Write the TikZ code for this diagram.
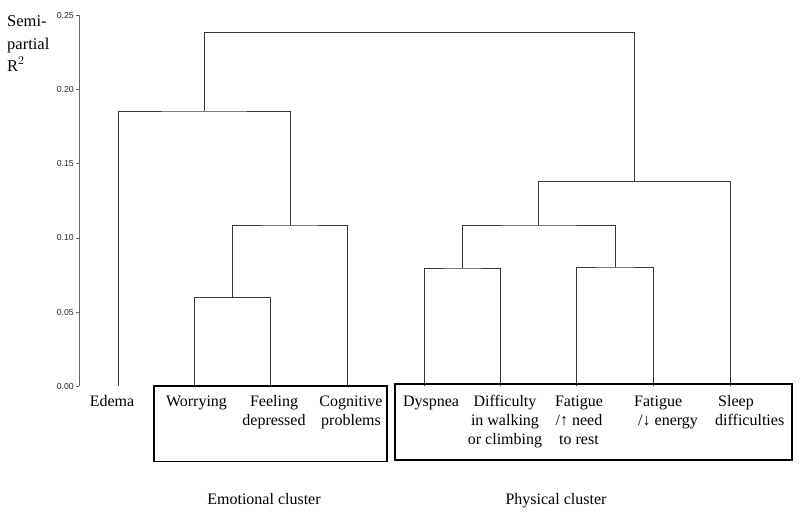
\documentclass[tikz,border=0pt]{standalone}
\usepackage{fontspec}
\setmainfont{Liberation Serif}
\newfontfamily\ticksans{Liberation Sans}
\setlength{\tabcolsep}{0pt}
\newcommand{\cstack}[1]{\begin{tabular}[t]{c}#1\end{tabular}}
\newcommand{\lstack}[1]{\begin{tabular}[t]{l}#1\end{tabular}}
\begin{document}
\begin{tikzpicture}[x=1pt,y=-1pt,
  dendro/.style={draw=black!78,line width=0.9pt},
  axisline/.style={draw=black!60,line width=0.8pt},
  clusterbox/.style={draw=black,line width=1.8pt},
  ticklab/.style={font=\ticksans\fontsize{8.7}{10}\selectfont,anchor=east,inner sep=0pt,text=black!85},
  leaflab/.style={font=\fontsize{16}{18.8}\selectfont,anchor=base,inner sep=0pt},
  leaflabl/.style={font=\fontsize{16}{18.8}\selectfont,anchor=base west,inner sep=0pt},
  clab/.style={font=\fontsize{16}{19}\selectfont,anchor=base,inner sep=0pt}]
\useasboundingbox (0,0) rectangle (800,514);

% axis
\coordinate (ax0) at (79,386.3);
\coordinate (ax1) at (79,15.3);
\draw[axisline] (ax0) -- (ax1);
\foreach \v/\y/\k in {0.00/386.3/a,0.05/312.1/b,0.10/237.9/c,0.15/163.7/d,0.20/89.5/e,0.25/15.3/f}{
  \coordinate (tick\k) at (79,\y);
  \coordinate (tickend\k) at (75.5,\y);
  \draw[axisline] (tick\k) -- (tickend\k);
  \node[ticklab] (ticklab\k) at (74,\y) {\v};
}
\node[anchor=base west,inner sep=0pt,font=\fontsize{16.5}{22}\selectfont] (ylab) at (7,27) {\lstack{Semi-\\partial\\R$^{2}$}};

% leaves
\coordinate (lE) at (118,386.3);
\coordinate (lW) at (194.7,386.3);
\coordinate (lF) at (270.7,386.3);
\coordinate (lC) at (347.3,386.3);
\coordinate (lD) at (424.3,386.3);
\coordinate (lDi) at (500.7,386.3);
\coordinate (lFn) at (576.7,386.3);
\coordinate (lFe) at (653.3,386.3);
\coordinate (lS) at (730.3,386.3);

% merges
\coordinate (mWF) at (232.7,297.7);
\coordinate (mWFC) at (290,225);
\coordinate (mE) at (204,111);
\coordinate (mDD) at (462.5,268);
\coordinate (mFF) at (615,267);
\coordinate (mP) at (538.5,225);
\coordinate (mPS) at (634.3,181.7);
\coordinate (mTop) at (419,32.7);

\draw[dendro] (lW) |- (mWF) -| (lF);
\draw[dendro] (mWF) |- (mWFC) -| (lC);
\draw[dendro] (lE) |- (mE) -| (mWFC);
\draw[dendro] (lD) |- (mDD) -| (lDi);
\draw[dendro] (lFn) |- (mFF) -| (lFe);
\draw[dendro] (mDD) |- (mP) -| (mFF);
\draw[dendro] (mP) |- (mPS) -| (lS);
\draw[dendro] (mE) |- (mTop) -| (mPS);

% boxes
\draw[clusterbox] (154,386) rectangle (387,461.5);
\draw[clusterbox] (395,384.3) rectangle (792,460);

% labels
\node[leaflab] (tE) at (112,406.7) {Edema};
\node[leaflab] (tW) at (196.5,406.7) {Worrying};
\node[leaflab] (tF) at (274,406.7) {\cstack{Feeling\\depressed}};
\node[leaflab] (tC) at (351,406.7) {\cstack{Cognitive\\problems}};
\node[leaflab] (tD) at (431,406.7) {Dyspnea};
\node[leaflab] (tDi) at (505,406.7) {\cstack{Difficulty\\in walking\\or climbing}};
\node[leaflab] (tFn) at (579,406.7) {\cstack{Fatigue\\/↑ need\\to rest}};
\node[leaflabl] (tFe) at (634,406.7) {\lstack{Fatigue\\\hspace*{4pt}/↓ energy}};
\node[leaflabl] (tS) at (715,406.7) {\lstack{\hspace*{3pt}Sleep\\difficulties}};

\node[clab] (cE) at (264,504.3) {Emotional cluster};
\node[clab] (cP) at (556,504.3) {Physical cluster};
\end{tikzpicture}
\end{document}
